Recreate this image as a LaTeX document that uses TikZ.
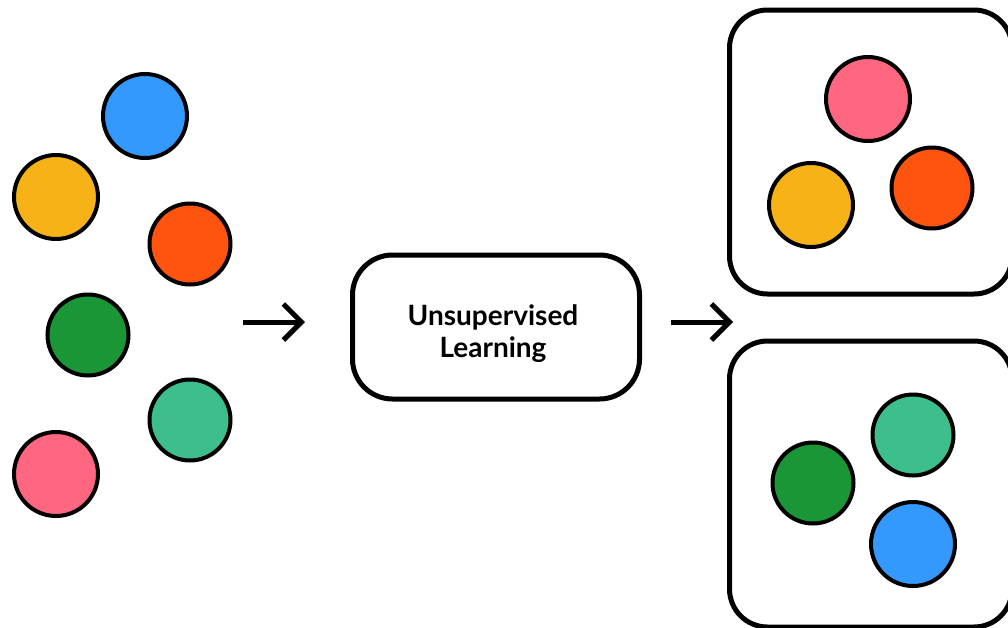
\documentclass[tikz,border=0pt]{standalone}
\usepackage{fontspec}
\setmainfont{Lato}
\usetikzlibrary{arrows.meta,positioning}
\definecolor{ballblue}{HTML}{3399FF}
\definecolor{ballyellow}{HTML}{F7B217}
\definecolor{ballorange}{HTML}{FF5410}
\definecolor{balldgreen}{HTML}{1A9636}
\definecolor{ballteal}{HTML}{3CBF8C}
\definecolor{ballpink}{HTML}{FF6680}
\tikzset{
  ball/.style = {
    circle,
    draw=black,
    line width=4pt,
    minimum size=84pt,
    inner sep=0pt
  },
  smallball/.style = {
    ball,
    minimum size=81pt
  },
  cluster/.style = {
    draw=black,
    line width=5pt,
    rounded corners=38pt
  },
  process/.style = {
    rectangle,
    draw=black,
    line width=5pt,
    rounded corners=40pt,
    minimum width=287pt,
    minimum height=144pt
  },
  caption/.style = {
    font=\fontsize{28}{32}\selectfont\bfseries,
    align=center
  },
  flow/.style = {
    line width=5pt,
    -{Straight Barb[length=18pt,width=36pt,line width=5pt]}
  }
}
\begin{document}
\begin{tikzpicture}[x=1pt,y=-1pt]
\useasboundingbox (0,0) rectangle (1008,627);
\clip (0,0) rectangle (1008,627);

% input points
\node[ball, fill=ballblue] (inblue) at (145,116) {};
\node[ball, fill=ballyellow] (inyellow) at (56,197) {};
\node[smallball, fill=ballorange] (inorange) at (190,244) {};
\node[smallball, fill=balldgreen] (ingreen) at (88,335) {};
\node[smallball, fill=ballteal] (inteal) at (190,420) {};
\node[ball, fill=ballpink] (inpink) at (56,474) {};

% model
\node[process] (model) at (496,327) {};
\node[caption] (modeltext) at (493,334) {Unsupervised\\Learning};

% clusters
\draw[cluster] (729.5,10) rectangle (1012,294);
\draw[cluster] (729.5,341) rectangle (1012,627);

\node[ball, fill=ballpink] (outpink) at (868,99) {};
\node[ball, fill=ballyellow] (outyellow) at (811,205) {};
\node[smallball, fill=ballorange] (outorange) at (932,188) {};
\node[smallball, fill=ballteal] (outteal) at (913,435) {};
\node[smallball, fill=balldgreen] (outgreen) at (813,483) {};
\node[ball, fill=ballblue] (outblue) at (913,544) {};

% arrows
\coordinate (inA) at (243,322);
\coordinate (inB) at (305,322);
\coordinate (outA) at (671,322);
\coordinate (outB) at (733,322);
\draw[flow] (inA) -- (inB);
\draw[flow] (outA) -- (outB);

\end{tikzpicture}
\end{document}
